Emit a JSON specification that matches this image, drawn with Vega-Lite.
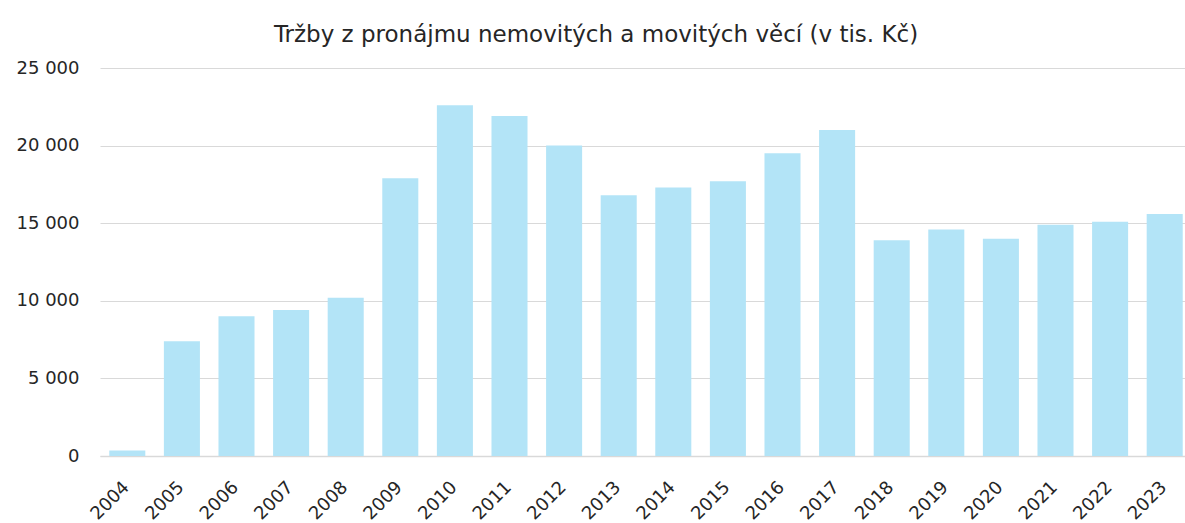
{
  "$schema": "https://vega.github.io/schema/vega-lite/v6.json",
  "width": 1092,
  "height": 388,
  "autosize": {"type": "none"},
  "padding": {"left": 100, "top": 68, "right": 0, "bottom": 67},
  "background": "white",
  "config": {
    "locale": {"number": {"decimal": ",", "thousands": " ", "grouping": [3], "currency": ["", " Kč"]}},
    "view": {"stroke": null},
    "font": "DejaVu Sans"
  },
  "title": {
    "text": "Tržby z pronájmu  nemovitých a movitých věcí (v tis. Kč)",
    "fontSize": 23,
    "fontWeight": "normal",
    "color": "#262626",
    "anchor": "middle",
    "dx": -50,
    "offset": 12,
    "font": "DejaVu Sans",
    "limit": 0
  },
  "data": {
    "values": [
      {"rok": "2004", "trzby": 350},
      {"rok": "2005", "trzby": 7400},
      {"rok": "2006", "trzby": 9000},
      {"rok": "2007", "trzby": 9400},
      {"rok": "2008", "trzby": 10200},
      {"rok": "2009", "trzby": 17900},
      {"rok": "2010", "trzby": 22600},
      {"rok": "2011", "trzby": 21900},
      {"rok": "2012", "trzby": 20000},
      {"rok": "2013", "trzby": 16800},
      {"rok": "2014", "trzby": 17300},
      {"rok": "2015", "trzby": 17700},
      {"rok": "2016", "trzby": 19500},
      {"rok": "2017", "trzby": 21000},
      {"rok": "2018", "trzby": 13900},
      {"rok": "2019", "trzby": 14600},
      {"rok": "2020", "trzby": 14000},
      {"rok": "2021", "trzby": 14900},
      {"rok": "2022", "trzby": 15100},
      {"rok": "2023", "trzby": 15600}
    ]
  },
  "mark": {"type": "bar", "color": "#b3e4f7"},
  "encoding": {
    "x": {
      "field": "rok",
      "type": "ordinal",
      "scale": {"paddingInner": 0.34, "paddingOuter": 0.17},
      "axis": {
        "title": null,
        "labelAngle": -45,
        "labelFontSize": 18,
        "labelColor": "#262626",
        "ticks": false,
        "labelPadding": 22,
        "labelOffset": -7,
        "domainColor": "#d9d9d9",
        "domainWidth": 1.5,
        "labelFont": "DejaVu Sans"
      }
    },
    "y": {
      "field": "trzby",
      "type": "quantitative",
      "scale": {"domain": [0, 25000]},
      "axis": {
        "title": null,
        "values": [0, 5000, 10000, 15000, 20000, 25000],
        "format": ",d",
        "ticks": false,
        "domain": false,
        "labelPadding": 21,
        "labelFontSize": 18,
        "labelColor": "#262626",
        "gridColor": "#d9d9d9",
        "labelFont": "DejaVu Sans"
      }
    }
  }
}
